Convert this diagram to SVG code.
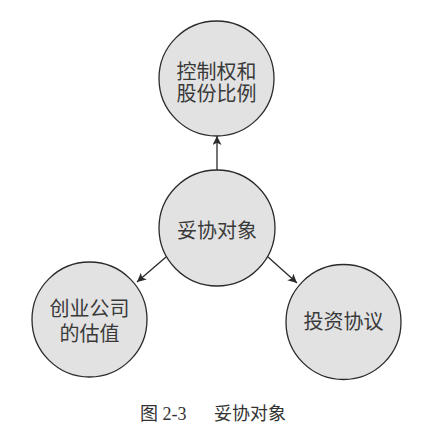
<svg xmlns="http://www.w3.org/2000/svg" width="431" height="439" viewBox="0 0 431 439">
<style>
.node{fill:#e2e2e2;stroke:#2a2a2a;stroke-width:1.3}
.lbl{font-family:"Noto Sans CJK SC",sans-serif;font-size:20px;fill:#3a3a3a;text-anchor:middle;dominant-baseline:central}
.edge{stroke:#2a2a2a;stroke-width:1.3;fill:none;marker-end:url(#ah)}
.cap{font-family:"Liberation Serif","Noto Sans CJK SC",serif;font-size:18px;fill:#333}
</style>
<defs>
<marker id="ah" viewBox="0 0 10 10" refX="10" refY="5" markerWidth="9" markerHeight="9" markerUnits="userSpaceOnUse" orient="auto">
<path d="M0,0 L10,5 L0,10 L2.5,5 z" fill="#2a2a2a"/>
</marker>
</defs>
<rect width="431" height="439" fill="#fff"/>
<g id="edges">
<line class="edge" x1="217" y1="170" x2="217" y2="136"/>
<line class="edge" x1="166" y1="257" x2="137" y2="282"/>
<line class="edge" x1="268" y1="257" x2="297" y2="283"/>
</g>
<g id="n-top">
<circle class="node" cx="216.5" cy="78.5" r="57.5"/>
<text class="lbl" x="216.5" y="70">控制权和</text>
<text class="lbl" x="216.5" y="92">股份比例</text>
</g>
<g id="n-center">
<circle class="node" cx="217" cy="228" r="58"/>
<text class="lbl" x="217" y="229">妥协对象</text>
</g>
<g id="n-left">
<circle class="node" cx="89.5" cy="319.5" r="57.5"/>
<text class="lbl" x="89.5" y="307">创业公司</text>
<text class="lbl" x="89.5" y="332">的估值</text>
</g>
<g id="n-right">
<circle class="node" cx="343.5" cy="322" r="57.5"/>
<text class="lbl" x="343.5" y="320">投资协议</text>
</g>
<text class="cap" x="140" y="420">图 2-3<tspan x="214">妥协对象</tspan></text>
</svg>
